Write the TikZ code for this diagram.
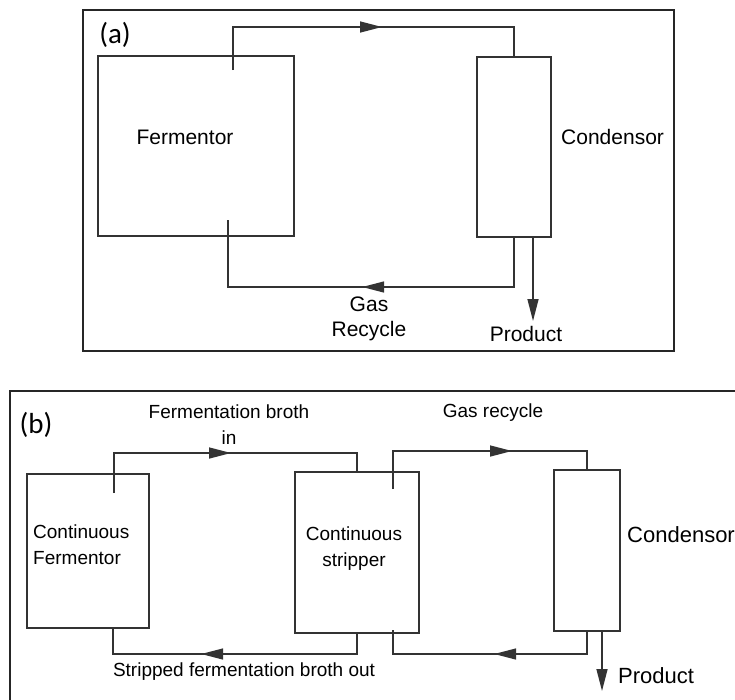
\documentclass[tikz,border=0pt]{standalone}
\usepackage{fontspec}
\setmainfont{Liberation Sans}
\newfontfamily\tagfont{Carlito}
\usetikzlibrary{arrows.meta,decorations.markings,calc}
\begin{document}
\begin{tikzpicture}[x=1pt,y=-1pt,
  unitbox/.style={draw=black!80,line width=1.6pt,inner sep=0pt,fill=none},
  pipe/.style={draw=black!80,line width=1.5pt},
  frameline/.style={draw=black!85,line width=1.3pt},
  midarrow/.style={postaction={decorate,decoration={markings,
      mark=at position #1 with {\arrow{Triangle[length=22pt,width=11pt]}}}}},
  endarrow/.style={-{Triangle[length=22pt,width=11pt]}},
  biglab/.style={inner sep=0pt,font=\fontsize{21}{25}\selectfont,align=center},
  smalllab/.style={inner sep=0pt,font=\fontsize{19}{26}\selectfont,align=center},
  tag/.style={inner sep=0pt,font=\tagfont\fontsize{29}{30}\selectfont}]
\useasboundingbox (0,0) rectangle (735,699);

% ---------- panel (a) ----------
\draw[frameline] (83,10) rectangle (674,351);
\node[tag] (tagA) at (115,35) {(a)};
\node[unitbox,minimum width=196pt,minimum height=180pt] (fermA) at (196,146) {};
\node[unitbox,minimum width=74pt,minimum height=180pt] (condA) at (514,147) {};
\node[biglab] (fermAlab) at (185,137) {Fermentor};
\node[biglab,anchor=west] (condAlab) at (561,137) {Condensor};
\node[biglab] (gasA) at (369,319) {Gas\\Recycle};
\node[biglab] (prodA) at (526,334) {Product};
\coordinate (aIn) at (233,70);
\coordinate (aOut) at (228,220);
\coordinate (aP) at (533,237);
\coordinate (aPend) at (533,321);
\draw[pipe,midarrow=192pt] (aIn) -- (aIn |- 0,27) -| (condA.north);
\draw[pipe,midarrow=201pt] (condA.south) -- (condA.south |- 0,287) -| (aOut);
\draw[pipe,endarrow] (aP) -- (aPend);

% ---------- panel (b) ----------
\draw[frameline] (736,391) -- (10,391) -- (10,700);
\node[tag] (tagB) at (36,425) {(b)};
\node[unitbox,minimum width=122pt,minimum height=154pt] (fermB) at (88,551) {};
\node[unitbox,minimum width=124pt,minimum height=161pt] (stripB) at (357,552.5) {};
\node[unitbox,minimum width=66pt,minimum height=161pt] (condB) at (587,550.5) {};
\node[smalllab] (brothIn) at (229,425) {Fermentation broth\\in};
\node[smalllab] (gasB) at (493,413) {Gas recycle};
\node[smalllab,align=left,anchor=west] (fermBlab) at (33,545) {Continuous\\Fermentor};
\node[smalllab] (stripBlab) at (354,548.5) {Continuous\\stripper};
\node[biglab,anchor=west,font=\fontsize{22}{26}\selectfont] (condBlab) at (627,535) {Condensor};
\node[smalllab] (brothOut) at (244,672) {Stripped fermentation broth out};
\node[biglab,anchor=west,font=\fontsize{22}{26}\selectfont] (prodB) at (618,676) {Product};
\coordinate (bIn1) at (114,493);
\coordinate (bOut1) at (113,628);
\coordinate (bIn2) at (393,489);
\coordinate (bOut2) at (393,630);
\coordinate (bP) at (602,631);
\coordinate (bPend) at (602,691);
\draw[pipe,midarrow=157pt] (bIn1) -- (bIn1 |- 0,453) -| (stripB.north);
\draw[pipe,midarrow=176pt] (stripB.south) -- (stripB.south |- 0,654) -| (bOut1);
\draw[pipe,midarrow=157pt] (bIn2) -- (bIn2 |- 0,451) -| (condB.north);
\draw[pipe,midarrow=115pt] (condB.south) -- (condB.south |- 0,654) -| (bOut2);
\draw[pipe,endarrow] (bP) -- (bPend);
\end{tikzpicture}
\end{document}
